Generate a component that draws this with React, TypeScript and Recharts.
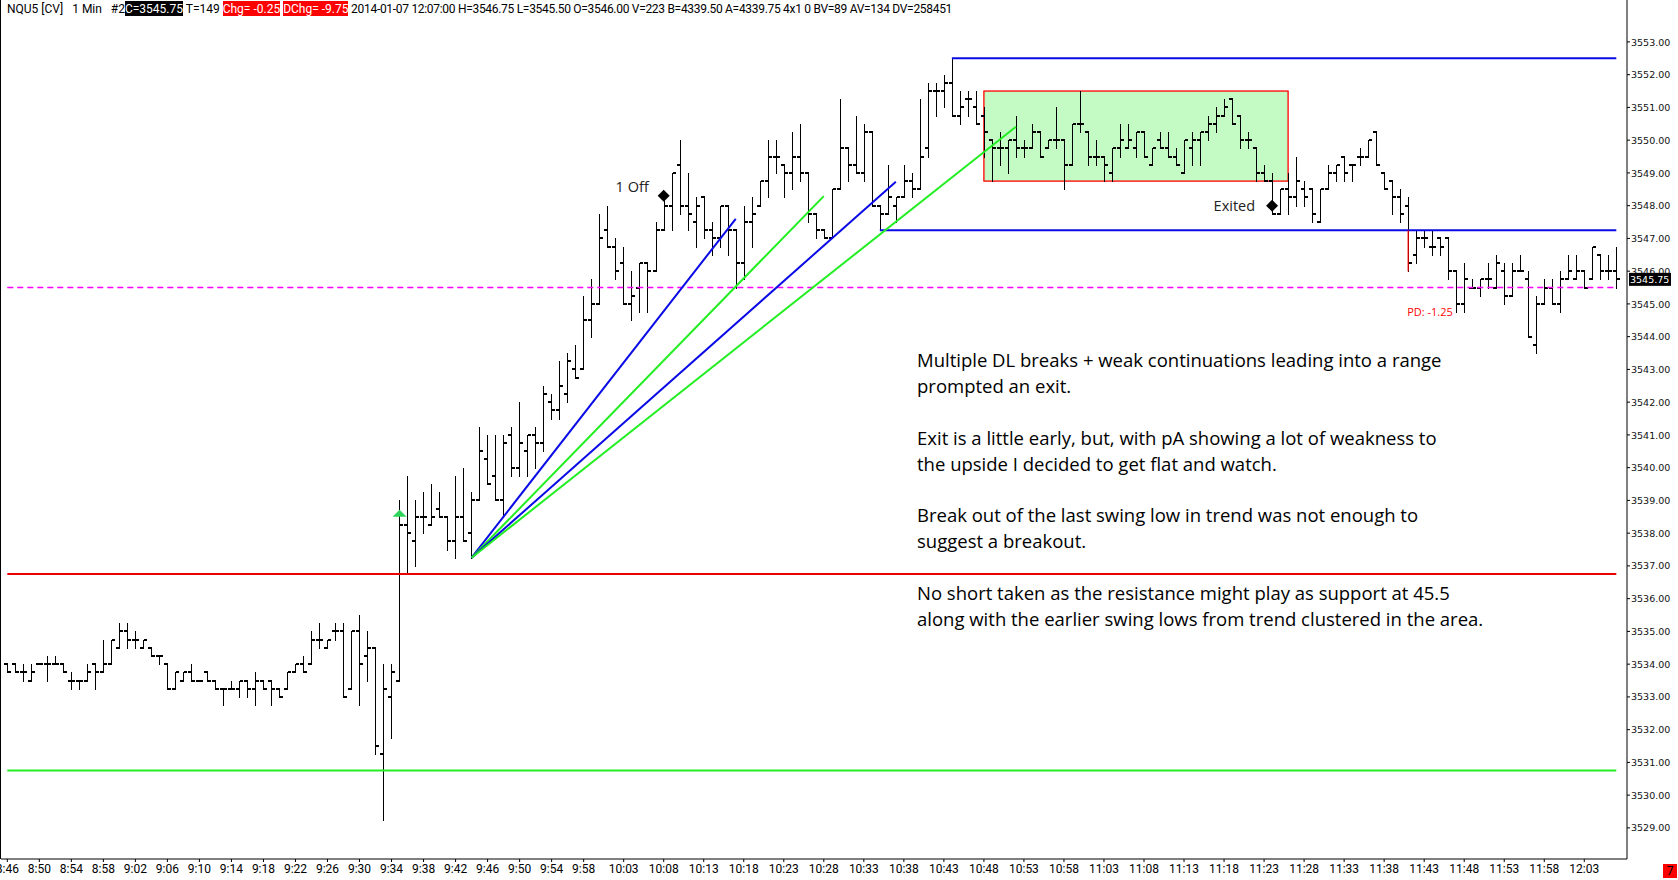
import React from 'react';
import {
    ComposedChart,
    Bar,
    XAxis,
    YAxis,
    ReferenceLine,
    ReferenceArea,
    ReferenceDot,
} from 'recharts';

// 1 minute NQU5 bars, first bar at 8:46, last at 12:07
const FIRST_MINUTE = 8 * 60 + 46;

const opens = [
    3534, 3534, 3533.75, 3533.5, 3534, 3534, 3534, 3534, 3533.5, 3533.5,
    3533.5, 3534, 3533.75, 3534, 3534.5, 3535, 3534.75, 3534.5, 3534.5, 3534.25,
    3534, 3533.25, 3533.5, 3533.75, 3533.5, 3533.75, 3533.5, 3533.25, 3533.25, 3533.25,
    3533.5, 3533.25, 3533.5, 3533.5, 3533.25, 3533.25, 3533.75, 3534, 3534, 3534.75,
    3534.5, 3535, 3535, 3533.25, 3535, 3534.25, 3534.5, 3531.25, 3533, 3533.5,
    3538.25, 3537.75, 3538.5, 3538.25, 3538.75, 3538.5, 3537.75, 3538.5, 3538, 3539,
    3540.25, 3539.75, 3539, 3541, 3540, 3540.5, 3541, 3540.75, 3542, 3541.75,
    3542.25, 3543, 3543, 3544.5, 3545, 3547.25, 3546.75, 3546.25, 3545, 3545.5,
    3546.25, 3546, 3547.25, 3548, 3549.25, 3548, 3547.5, 3548.25, 3547.25, 3547,
    3548, 3547.25, 3546.25, 3547.5, 3548, 3548.75, 3549.5, 3549.25, 3549, 3549.5,
    3549, 3547.75, 3547.25, 3547, 3548.5, 3549.75, 3549.25, 3549, 3550.25, 3548,
    3547.75, 3548, 3548.25, 3548.75, 3548.5, 3549.75, 3551.5, 3551.5, 3551.75, 3550.75,
    3551.25, 3551, 3550.75, 3550, 3549.75, 3549.75, 3550, 3549.75, 3549.75, 3550.25,
    3549.75, 3550, 3550, 3549.25, 3550.5, 3550.25, 3549.5, 3549.5, 3549, 3549.75,
    3549.75, 3549.75, 3550.25, 3549.25, 3550, 3549.75, 3549.5, 3549, 3549.75, 3550,
    3550.25, 3550.5, 3550.75, 3551.25, 3550.75, 3550, 3549.75, 3549, 3548.75, 3547.75,
    3548.5, 3548.25, 3548.5, 3548.5, 3547.5, 3548.5, 3549, 3549.5, 3549.25, 3549.5,
    3549.5, 3550.25, 3549, 3548.75, 3548.25, 3548, 3546.5, 3547, 3546.75, 3547,
    3547, 3546, 3545, 3545.5, 3545.5, 3545.75, 3545.5, 3546, 3545.25, 3546,
    3545.75, 3543.75, 3545, 3545.5, 3545, 3545.75, 3545.75, 3546, 3545.75, 3546.5,
    3546, 3546,
];

const highs = [
    3534, 3534, 3534, 3534, 3534, 3534.25, 3534.25, 3534, 3533.75, 3533.5,
    3534, 3534, 3534.75, 3534.75, 3535.25, 3535.25, 3535, 3534.75, 3534.5, 3534.25,
    3534, 3533.75, 3533.75, 3534, 3533.5, 3533.75, 3533.5, 3533.25, 3533.5, 3533.5,
    3533.5, 3533.75, 3533.5, 3533.5, 3533.25, 3533.75, 3534, 3534.25, 3535, 3535.25,
    3534.75, 3535.25, 3535.25, 3535, 3535.5, 3535, 3534.5, 3534, 3534, 3539,
    3539.75, 3539, 3539.25, 3539.5, 3539.25, 3538.5, 3539.75, 3540, 3539.25, 3541.25,
    3541, 3541, 3541, 3541.25, 3542, 3541, 3541.25, 3542.5, 3542.25, 3543.25,
    3543.5, 3543.75, 3545.25, 3545.75, 3547.75, 3548, 3547, 3546.75, 3546, 3546.25,
    3546.25, 3547.5, 3548.25, 3549, 3550, 3549, 3548.25, 3548.25, 3547.5, 3548,
    3548, 3547.25, 3548, 3548.25, 3548.75, 3550, 3550, 3549.25, 3550.25, 3550.5,
    3549, 3547.75, 3547.25, 3548.5, 3551.25, 3549.75, 3550.75, 3550.5, 3550.25, 3548,
    3549.25, 3548.25, 3549.25, 3549, 3551.25, 3551.75, 3551.75, 3552, 3552.5, 3551.5,
    3551.5, 3551.5, 3551, 3550, 3550.25, 3550, 3550.75, 3550, 3550.5, 3550.25,
    3550, 3551, 3550, 3550.5, 3551.5, 3550.25, 3550, 3549.5, 3549.75, 3550.5,
    3550.5, 3550.25, 3550.25, 3549.75, 3550.25, 3550.25, 3549.75, 3550, 3550.25, 3550.25,
    3550.75, 3551, 3551.25, 3551.25, 3550.75, 3550.25, 3549.75, 3549.25, 3549, 3548.5,
    3549, 3549.5, 3548.75, 3548.5, 3548.5, 3549.25, 3549.25, 3549.5, 3549.25, 3549.75,
    3550, 3550.25, 3549, 3548.75, 3548.5, 3548.25, 3547.25, 3547.25, 3547.25, 3547,
    3547, 3546, 3546.25, 3545.75, 3545.75, 3546.25, 3546.5, 3546.25, 3546.25, 3546.5,
    3546, 3545.25, 3545.75, 3545.75, 3546, 3546.5, 3546.5, 3546, 3546.75, 3546.5,
    3546.5, 3546.75,
];

const lows = [
    3533.75, 3533.75, 3533.5, 3533.5, 3534, 3533.5, 3534, 3533.75, 3533.25, 3533.25,
    3533.5, 3533.25, 3533.75, 3534, 3534.5, 3534.5, 3534.5, 3534.5, 3534.25, 3534,
    3533.25, 3533.25, 3533.5, 3533.5, 3533.5, 3533.5, 3533.25, 3532.75, 3533.25, 3533,
    3533, 3532.75, 3533.25, 3532.75, 3533, 3533.25, 3533.75, 3533.75, 3534, 3534.5,
    3534.5, 3534.75, 3533, 3533.25, 3532.75, 3533.5, 3531.25, 3529.25, 3531.75, 3533.5,
    3536.75, 3537, 3538, 3538.25, 3538.5, 3537.5, 3537.25, 3537.75, 3537.25, 3539,
    3539.5, 3539, 3538.5, 3539.75, 3539.75, 3539.75, 3540, 3540.5, 3541.5, 3541.5,
    3542, 3542.75, 3543, 3544, 3545, 3546.75, 3545.75, 3545, 3544.5, 3544.75,
    3544.75, 3546, 3547.25, 3547.25, 3547.75, 3547.25, 3546.75, 3547, 3546.5, 3546.75,
    3546.5, 3545.5, 3545.75, 3546.75, 3548, 3548.25, 3549, 3548.25, 3548.5, 3548.75,
    3547.5, 3547, 3547, 3547, 3548.5, 3548.75, 3549, 3548.75, 3548, 3547.25,
    3547.75, 3547.5, 3548.25, 3548.25, 3548.5, 3549.5, 3550.75, 3551, 3550.75, 3550.5,
    3550.75, 3550.5, 3549.5, 3548.75, 3549.25, 3549, 3549.5, 3549.5, 3549.75, 3549.5,
    3549.75, 3549.75, 3548.5, 3549.25, 3550.25, 3549.25, 3549.25, 3548.75, 3548.75, 3549.5,
    3549.75, 3549.5, 3549.5, 3549.25, 3549.75, 3549.5, 3549.25, 3549, 3549.25, 3549.25,
    3550, 3550.25, 3550.75, 3550.5, 3549.75, 3549.75, 3548.75, 3548.75, 3547.75, 3547.75,
    3547.75, 3548, 3548, 3547.5, 3547.5, 3548.5, 3548.75, 3548.75, 3548.75, 3549.25,
    3549.5, 3549.25, 3548.5, 3547.75, 3547.5, 3546, 3546.25, 3546.75, 3546.5, 3546.5,
    3545.75, 3544.75, 3544.75, 3545.5, 3545.25, 3545.5, 3545.5, 3545, 3545.25, 3546,
    3544, 3543.5, 3545, 3545, 3544.75, 3545.75, 3545.75, 3545.5, 3545.75, 3545.75,
    3545.75, 3545.5,
];

const closes = [
    3533.75, 3533.75, 3533.75, 3533.75, 3534, 3534, 3534, 3533.75, 3533.5, 3533.5,
    3533.75, 3533.75, 3534, 3534.75, 3535, 3534.75, 3534.75, 3534.75, 3534.25, 3534.25,
    3533.25, 3533.75, 3533.75, 3533.5, 3533.5, 3533.5, 3533.25, 3533.25, 3533.25, 3533.5,
    3533.25, 3533.5, 3533.25, 3533.25, 3533, 3533.75, 3534, 3533.75, 3534.75, 3534.75,
    3534.75, 3535, 3533, 3535, 3534, 3534.5, 3531.5, 3533.25, 3533.75, 3538.25,
    3538, 3538.5, 3538.5, 3538.5, 3538.5, 3537.75, 3538.5, 3537.75, 3539, 3540.5,
    3539.5, 3539, 3540.75, 3540, 3540.75, 3541, 3540.75, 3542.25, 3541.75, 3542.5,
    3543.25, 3542.75, 3544.5, 3545, 3547, 3546.75, 3546, 3545, 3545.25, 3546.25,
    3546, 3547.25, 3548, 3549, 3548, 3547.75, 3548, 3547.25, 3547, 3548,
    3547.25, 3546.25, 3547.5, 3547.75, 3548.75, 3549.5, 3549.5, 3549, 3549.5, 3549,
    3547.75, 3547.25, 3547, 3548.5, 3549.75, 3549.25, 3549, 3550.25, 3548, 3547.75,
    3548.25, 3548.25, 3548.75, 3548.5, 3549.5, 3551.5, 3551.5, 3551.75, 3550.75, 3551,
    3551.25, 3550.5, 3550.25, 3549.75, 3549.75, 3550, 3549.75, 3549.75, 3550.25, 3549.5,
    3550, 3550, 3549.25, 3550.5, 3550.5, 3549.5, 3549.5, 3549.25, 3549.75, 3550,
    3550, 3550.25, 3549.5, 3549.75, 3549.75, 3549.5, 3549.25, 3550, 3550, 3550.25,
    3550.5, 3550.75, 3551, 3550.5, 3550, 3550, 3549, 3548.75, 3547.75, 3548.5,
    3548.25, 3548.75, 3548.25, 3547.75, 3548.5, 3549, 3549.25, 3549, 3549.25, 3549.5,
    3550, 3549.25, 3548.5, 3548.25, 3547.75, 3546.25, 3547, 3547, 3546.75, 3546.75,
    3546, 3545, 3545.75, 3545.5, 3545.75, 3545.75, 3546.25, 3545.25, 3546, 3546,
    3544, 3545, 3545.5, 3545, 3545.75, 3546, 3546, 3545.5, 3546.75, 3546,
    3546, 3545.75,
];

const timeTicks = [
    '8:46', '8:50', '8:54', '8:58', '9:02', '9:06', '9:10', '9:14', '9:18', '9:22',
    '9:26', '9:30', '9:34', '9:38', '9:42', '9:46', '9:50', '9:54', '9:58', '10:03',
    '10:08', '10:13', '10:18', '10:23', '10:28', '10:33', '10:38', '10:43', '10:48', '10:53',
    '10:58', '11:03', '11:08', '11:13', '11:18', '11:23', '11:28', '11:33', '11:38', '11:43',
    '11:48', '11:53', '11:58', '12:03',
];

const priceTicks = [
    3529, 3530, 3531, 3532, 3533, 3534, 3535, 3536, 3537, 3538, 3539, 3540,
    3541, 3542, 3543, 3544, 3545, 3546, 3547, 3548, 3549, 3550, 3551, 3552, 3553,
];
const lastPrice = 3545.75;

// drawn levels and trend lines (price, time)
const levels = [
    { from: '10:44', price: 3552.5, color: '#0a0ae6' },
    { from: '10:35', price: 3547.25, color: '#0a0ae6' },
    { from: '8:46', price: 3536.75, color: '#ee0000' },
    { from: '8:46', price: 3530.75, color: '#22ee22' },
];
const trendStart = { t: '9:44', price: 3537.25 };
const trendEnds = [
    { t: '10:17', price: 3547.6, color: '#0a0ae6' },
    { t: '10:28', price: 3548.29, color: '#22ee22' },
    { t: '10:37', price: 3548.73, color: '#0a0ae6' },
    { t: '10:52', price: 3550.41, color: '#22ee22' },
];
const rangeBox = { from: '10:48', to: '11:26', low: 3548.75, high: 3551.5 };

const notes = [
    'Multiple DL breaks + weak continuations leading into a range',
    'prompted an exit.',
    '',
    'Exit is a little early, but, with pA showing a lot of weakness to',
    'the upside I decided to get flat and watch.',
    '',
    'Break out of the last swing low in trend was not enough to',
    'suggest a breakout.',
    '',
    'No short taken as the resistance might play as support at 45.5',
    'along with the earlier swing lows from trend clustered in the area.',
];

const toLabel = (m: number) => `${Math.floor(m / 60)}:${String(m % 60).padStart(2, '0')}`;

const bars = opens.map((o, i) => ({
    t: toLabel(FIRST_MINUTE + i),
    o,
    h: highs[i],
    l: lows[i],
    c: closes[i],
    range: [lows[i], highs[i]],
}));
const lastTime = bars[bars.length - 1].t;
const boxSpan =
    bars.findIndex((b) => b.t === rangeBox.to) - bars.findIndex((b) => b.t === rangeBox.from) + 1;

const NARROW = '"Liberation Sans Narrow", "Arial Narrow", Roboto, sans-serif';
const NOTE_FONT = '"Open Sans", "Noto Sans", sans-serif';

function OhlcBar(props: any) {
    const { x, y, width, height, payload } = props;
    if (x == null || y == null) return null;
    const cx = Math.round(x + width / 2) + 0.5;
    const top = Math.min(y, y + height);
    const h = Math.abs(height);
    const span = payload.h - payload.l;
    const k = span > 0 ? h / span : 0;
    const yo = top + (payload.h - payload.o) * k;
    const yc = top + (payload.h - payload.c) * k;
    return (
        <g shapeRendering="crispEdges">
            <line x1={cx} x2={cx} y1={top} y2={top + h + 1} stroke="#000" strokeWidth={1} />
            <line x1={cx - 3.5} x2={cx} y1={yo} y2={yo} stroke="#000" strokeWidth={2} />
            <line x1={cx} x2={cx + 3.5} y1={yc} y2={yc} stroke="#000" strokeWidth={2} />
        </g>
    );
}

// the range box runs from bar centre to bar centre
function RangeBox(props: any) {
    const { x, y, width, height } = props;
    const inset = width / boxSpan / 2;
    return (
        <rect
            x={x + inset}
            y={y}
            width={width - inset * 2}
            height={height}
            fill="#c4fac4"
            stroke="#ff0000"
            strokeWidth={1.3}
        />
    );
}

function PriceTick(props: any) {
    const { x, y, payload } = props;
    const v = payload.value as number;
    if (v === lastPrice) {
        return (
            <g>
                <rect x={x + 2} y={y - 6.5} width={42} height={13} fill="#000" />
                <text x={x + 3} y={y + 3.6} fill="#fff" fontSize={9.5} fontFamily='"DejaVu Sans", sans-serif'>
                    {v.toFixed(2)}
                </text>
            </g>
        );
    }
    return (
        <g>
            <line x1={x} x2={x + 3} y1={y} y2={y} stroke="#000" />
            <text x={x + 4} y={y + 3.6} fill="#111" fontSize={9.5} fontFamily='"DejaVu Sans", sans-serif'>
                {v.toFixed(2)}
            </text>
        </g>
    );
}

function TimeTick(props: any) {
    const { x, y, payload } = props;
    return (
        <text x={x} y={y + 9} textAnchor="middle" fill="#000" fontSize={12} fontFamily={NARROW}>
            {payload.value}
        </text>
    );
}

function Marker({ cx, cy, text, dx, dy }: any) {
    return (
        <g>
            <polygon points={`${cx},${cy - 6} ${cx + 6},${cy} ${cx},${cy + 6} ${cx - 6},${cy}`} fill="#000" />
            <text x={cx + dx} y={cy + dy} textAnchor="end" fontSize={14.5} fontFamily={NOTE_FONT} fill="#222">
                {text}
            </text>
        </g>
    );
}

const boxStyle = { color: '#fff', padding: '1px 0 0' };

export default function App() {
    return (
        <div
            style={{
                position: 'fixed',
                left: 0,
                top: 0,
                width: 1678,
                height: 880,
                background: '#fff',
                overflow: 'hidden',
            }}
        >
            <ComposedChart
                width={1678}
                height={880}
                data={bars}
                margin={{ top: 0, right: 0, bottom: 0, left: 1 }}
            >
                <XAxis
                    dataKey="t"
                    ticks={timeTicks}
                    interval={0}
                    height={21}
                    padding={{ left: 2.3, right: 6.7 }}
                    axisLine={{ stroke: '#000' }}
                    tickLine={{ stroke: '#000' }}
                    tickSize={3}
                    tickMargin={2}
                    tick={<TimeTick />}
                />
                <YAxis
                    orientation="right"
                    width={51}
                    domain={[3528.05, 3554.28]}
                    allowDataOverflow
                    ticks={[...priceTicks, lastPrice]}
                    interval={0}
                    axisLine={{ stroke: '#000' }}
                    tickLine={false}
                    tickSize={0}
                    tickMargin={0}
                    tick={<PriceTick />}
                />
                <ReferenceArea
                    x1={rangeBox.from}
                    x2={rangeBox.to}
                    y1={rangeBox.low}
                    y2={rangeBox.high}
                    shape={(p: any) => <RangeBox {...p} />}
                />
                <ReferenceLine
                    segment={[
                        { x: '8:46', y: 3545.5 },
                        { x: lastTime, y: 3545.5 },
                    ]}
                    stroke="#ff00ff"
                    strokeWidth={1.5}
                    strokeDasharray="6 4"
                />
                {levels.map((lv) => (
                    <ReferenceLine
                        key={`${lv.from}-${lv.price}`}
                        segment={[
                            { x: lv.from, y: lv.price },
                            { x: lastTime, y: lv.price },
                        ]}
                        stroke={lv.color}
                        strokeWidth={2}
                    />
                ))}
                {trendEnds.map((e) => (
                    <ReferenceLine
                        key={e.t}
                        segment={[
                            { x: trendStart.t, y: trendStart.price },
                            { x: e.t, y: e.price },
                        ]}
                        stroke={e.color}
                        strokeWidth={2}
                    />
                ))}
                <Bar dataKey="range" isAnimationActive={false} shape={(p: any) => <OhlcBar {...p} />} />
                <ReferenceLine
                    segment={[
                        { x: '11:41', y: 3547.25 },
                        { x: '11:41', y: 3546.0 },
                    ]}
                    stroke="#ff0000"
                    strokeWidth={1.2}
                />
                <ReferenceDot
                    x="9:35"
                    y={3538.5}
                    r={0}
                    shape={(p: any) => (
                        <polygon
                            points={`${p.cx - 7},${p.cy} ${p.cx + 7},${p.cy} ${p.cx},${p.cy - 7}`}
                            fill="#2fd45a"
                        />
                    )}
                />
                <ReferenceDot
                    x="10:08"
                    y={3548.3}
                    r={0}
                    shape={(p: any) => <Marker cx={p.cx} cy={p.cy} text="1 Off" dx={-15} dy={-4} />}
                />
                <ReferenceDot
                    x="11:24"
                    y={3548.0}
                    r={0}
                    shape={(p: any) => <Marker cx={p.cx} cy={p.cy} text="Exited" dx={-17} dy={5} />}
                />
                <ReferenceDot
                    x="11:41"
                    y={3544.75}
                    r={0}
                    shape={(p: any) => (
                        <text x={p.cx - 1} y={p.cy + 4} fontSize={11} fontFamily={NOTE_FONT} fill="#ff0000">
                            PD: -1.25
                        </text>
                    )}
                />
            </ComposedChart>

            {/* left frame */}
            <div style={{ position: 'absolute', left: 0, top: 0, width: 1, height: 859, background: '#000' }} />

            {/* header */}
            <div
                style={{
                    position: 'absolute',
                    left: 7,
                    top: 2,
                    fontFamily: NARROW,
                    fontSize: 12,
                    lineHeight: '14px',
                    whiteSpace: 'pre',
                    color: '#000',
                }}
            >
                {'NQU5 [CV]   1 Min   #2'}
                <span style={{ ...boxStyle, background: '#000' }}>C=3545.75</span>
                {' T=149 '}
                <span style={{ ...boxStyle, background: '#ff0000' }}>Chg= -0.25</span>{' '}
                <span style={{ ...boxStyle, background: '#ff0000' }}>DChg= -9.75</span>
                <span style={{ letterSpacing: '-0.3px' }}>
                    {' 2014-01-07 12:07:00 H=3546.75 L=3545.50 O=3546.00 V=223 B=4339.50 A=4339.75 4x1 0 BV=89 AV=134 DV=258451'}
                </span>
            </div>

            {/* commentary */}
            <div
                style={{
                    position: 'absolute',
                    left: 917,
                    top: 347,
                    fontFamily: NOTE_FONT,
                    fontSize: 18.5,
                    lineHeight: '25.9px',
                    color: '#000',
                    whiteSpace: 'pre',
                }}
            >
                {notes.map((line, i) => (
                    <div key={i} style={{ height: 25.9 }}>
                        {line}
                    </div>
                ))}
            </div>

            {/* status box */}
            <div
                style={{
                    position: 'absolute',
                    left: 1663,
                    top: 864,
                    width: 14,
                    height: 14,
                    background: '#ff0000',
                    color: '#000',
                    fontFamily: NARROW,
                    fontSize: 12,
                    lineHeight: '14px',
                    textAlign: 'center',
                }}
            >
                7
            </div>
        </div>
    );
}
